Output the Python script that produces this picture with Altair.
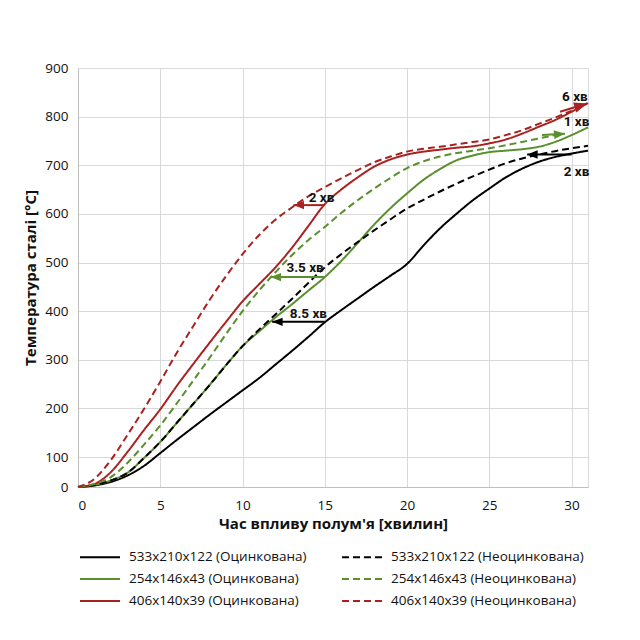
import altair as alt
import pandas as pd

# ---- data ----
t_full = list(range(32))  # minutes 0..31

# order: galvanised column first, then non-galvanised column (legend fills column by column)
series_names = [
    "533x210x122 (Оцинкована)",
    "254x146x43 (Оцинкована)",
    "406x140x39 (Оцинкована)",
    "533x210x122 (Неоцинкована)",
    "254x146x43 (Неоцинкована)",
    "406x140x39 (Неоцинкована)",
]

black_solid = [0, 5, 17, 38, 70, 108, 135, 161, 187, 212, 237, 262, 290, 318, 347, 377,
               402, 426, 450, 473, 497, 535, 570, 600, 628, 652, 675, 693, 707, 717, 724, 730]
green_solid = [0, 7, 22, 47, 96, 131, 170, 209, 248, 289, 328, 358, 387, 414, 442, 470,
               503, 540, 578, 612, 642, 670, 692, 710, 720, 727, 730, 733, 738, 748, 762, 778]
red_solid = [0, 10, 50, 110, 155, 198, 246, 291, 335, 378, 420, 455, 490, 530, 575, 620,
             650, 675, 697, 712, 722, 728, 732, 736, 739, 745, 753, 765, 779, 793, 810, 828]
black_dashed = [0, 7, 22, 47, 96, 131, 170, 209, 248, 289, 328, 362, 393, 425, 458, 490,
                517, 542, 566, 589, 611, 629, 646, 662, 677, 691, 704, 714, 722, 729, 735, 740]
green_dashed = [0, 10, 33, 80, 125, 165, 210, 257, 304, 353, 400, 442, 480, 515, 546, 573,
                602, 628, 652, 674, 694, 708, 718, 725, 730, 735, 741, 748, 755, 762]
red_dashed = [0, 27, 90, 145, 198, 255, 314, 369, 423, 472, 517, 556, 588, 613, 636, 655,
              673, 690, 706, 718, 728, 734, 738, 743, 748, 753, 762, 772, 785, 798, 812]

series_values = [black_solid, green_solid, red_solid, black_dashed, green_dashed, red_dashed]

BLACK = "#000000"
GREEN = "#5b8f2e"
RED = "#a82222"
series_colors = [BLACK, GREEN, RED, BLACK, GREEN, RED]
series_dash = [[1, 0], [1, 0], [1, 0], [7, 4], [7, 4], [7, 4]]

# annotation arrows (start -> tip)
arr_x1 = [15, 15, 15, 30.0, 28.2, 29.3]
arr_x2 = [13.1, 11.7, 11.8, 27.3, 29.6, 30.95]
arr_y1 = [618, 470, 378, 722, 762, 810]
arr_y2 = [618, 470, 378, 722, 765, 827]
arr_color = [RED, GREEN, BLACK, BLACK, GREEN, RED]
arr_dir = ["left", "left", "left", "left", "right", "right"]
arr_angle = [0, 0, 0, 0, 355, 342]
arr_size = [110, 110, 110, 110, 120, 170]

lab_text = ["2 хв", "3.5 хв", "8.5 хв", "2 хв", "1 хв", "6 хв"]
lab_x = [14.8, 13.8, 14.0, 30.3, 30.3, 30.2]
lab_y = [632, 489, 394, 687, 789, 840]

x_ticks = [0, 5, 10, 15, 20, 25, 30]
y_ticks = [0, 100, 200, 300, 400, 500, 600, 700, 800, 900]

# ---- tables ----
rows = []
for name, vals in zip(series_names, series_values):
    for t, v in zip(t_full, vals):
        rows.append({"t": t, "temp": v, "series": name})
lines_df = pd.DataFrame(rows)

arrows_df = pd.DataFrame({"x1": arr_x1, "x2": arr_x2, "y1": arr_y1, "y2": arr_y2,
                          "color": arr_color, "dir": arr_dir, "angle": arr_angle,
                          "size": arr_size})
labels_df = pd.DataFrame({"text": lab_text, "x": lab_x, "y": lab_y})

W, H = 510, 419
xscale = alt.Scale(domain=[0, 31], nice=False, zero=False)
yscale = alt.Scale(domain=[0, 100, 900], range=[H, H - 30, 0], nice=False, zero=False)

xaxis = alt.Axis(values=x_ticks, title="Час впливу полум'я [хвилин]", ticks=False,
                 labelPadding=11, titlePadding=5)
yaxis = alt.Axis(values=y_ticks, title="Температура сталі [°C]", ticks=False,
                 labelPadding=10, titlePadding=6)

# legend symbol: a horizontal line path, 40 px long at size 400
legend = alt.Legend(orient="none", legendX=11, legendY=478, columns=2, title=None,
                    symbolType="M-2,0L2,0", symbolSize=400, symbolStrokeWidth=2,
                    labelLimit=400, columnPadding=31, rowPadding=4, labelOffset=18,
                    labelFont="Open Sans", labelFontSize=13.5, labelColor="#111111")

lines = alt.Chart(lines_df).mark_line(strokeWidth=2, interpolate="monotone").encode(
    x=alt.X("t:Q", scale=xscale, axis=xaxis),
    y=alt.Y("temp:Q", scale=yscale, axis=yaxis),
    color=alt.Color("series:N", scale=alt.Scale(domain=series_names, range=series_colors),
                    legend=legend, sort=series_names),
    strokeDash=alt.StrokeDash("series:N", scale=alt.Scale(domain=series_names, range=series_dash),
                              legend=legend, sort=series_names),
)

shafts = alt.Chart(arrows_df).mark_rule(strokeWidth=2).encode(
    x=alt.X("x1:Q", scale=xscale),
    x2="x2:Q",
    y=alt.Y("y1:Q", scale=yscale),
    y2="y2:Q",
    stroke=alt.Stroke("color:N", scale=None, legend=None),
)

left_head = "M0,0 L2,-0.8 L2,0.8 Z"
right_head = "M0,0 L-2,-0.8 L-2,0.8 Z"

heads_l = alt.Chart(arrows_df).transform_filter(alt.datum.dir == "left").mark_point(
    shape=left_head, filled=True, opacity=1, strokeWidth=0
).encode(
    x=alt.X("x2:Q", scale=xscale),
    y=alt.Y("y2:Q", scale=yscale),
    fill=alt.Fill("color:N", scale=None, legend=None),
    angle=alt.Angle("angle:Q", scale=None),
    size=alt.Size("size:Q", scale=None, legend=None),
)
heads_r = alt.Chart(arrows_df).transform_filter(alt.datum.dir == "right").mark_point(
    shape=right_head, filled=True, opacity=1, strokeWidth=0
).encode(
    x=alt.X("x2:Q", scale=xscale),
    y=alt.Y("y2:Q", scale=yscale),
    fill=alt.Fill("color:N", scale=None, legend=None),
    angle=alt.Angle("angle:Q", scale=None),
    size=alt.Size("size:Q", scale=None, legend=None),
)

labels = alt.Chart(labels_df).mark_text(
    font="Roboto", fontWeight="bold", fontSize=13.5, color="#111111",
    align="center", baseline="middle"
).encode(
    x=alt.X("x:Q", scale=xscale),
    y=alt.Y("y:Q", scale=yscale),
    text="text:N",
)

chart = alt.layer(lines, shafts, heads_l, heads_r, labels).properties(
    width=W, height=H, background="white",
    padding={"left": 15, "top": 53, "right": 10, "bottom": 10},
).configure_view(
    stroke="#d9d9d9", strokeWidth=1
).configure_axis(
    labelFont="Open Sans", labelFontSize=13.5, labelColor="#111111",
    titleFont="Open Sans", titleFontSize=15, titleFontWeight="bold", titleColor="#111111",
    gridColor="#d9d9d9", gridWidth=1, domainColor="#bfbfbf", domainWidth=1,
)

chart.save("out.html", embed_options={"renderer": "svg", "actions": False})
